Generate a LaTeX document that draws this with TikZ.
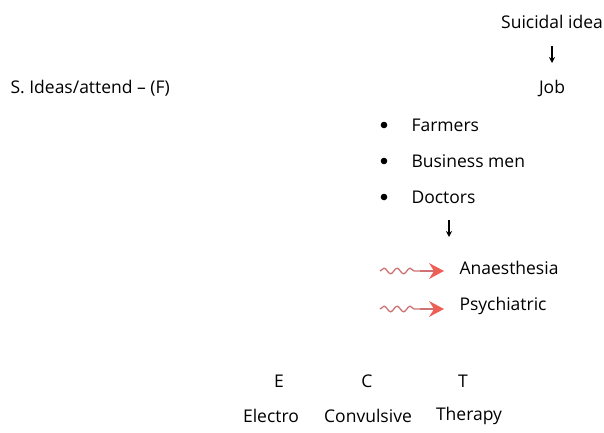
\documentclass[tikz,border=0pt]{standalone}
\usepackage{fontspec}
\setmainfont{Open Sans}
\usetikzlibrary{decorations.pathmorphing,arrows.meta}
\definecolor{wavy}{RGB}{205,115,115}
\definecolor{tipred}{RGB}{238,95,85}
\tikzset{
  txt/.style={font=\fontsize{17.5}{21}\selectfont},
  down/.style={-{Stealth[length=6pt,width=6pt]},line width=1.2pt},
  squig/.style={wavy,line width=1.3pt,decorate,decoration={snake,amplitude=2.8pt,segment length=13pt}}
}
\begin{document}
\begin{tikzpicture}[x=1pt,y=-1pt]
\useasboundingbox (0,0) rectangle (604,432);
\node[txt] (idea) at (552,22) {Suicidal idea};
\node[txt] (job) at (552,88) {Job};
\coordinate (a1) at (552,46);
\coordinate (a2) at (552,63);
\draw[down] (a1) -- (a2);
\node[txt,anchor=west] (sideas) at (7,88) {S. Ideas/attend – (F)};
\foreach \y/\name/\t in {125/farm/Farmers,161/bus/Business men,197/doc/Doctors}{
  \fill (384,\y) circle[radius=3.3pt];
  \node[txt,anchor=west] (\name) at (408,\y) {\t};
}
\coordinate (d1) at (449,220);
\coordinate (d2) at (449,237);
\draw[down] (d1) -- (d2);
\node[txt,anchor=west] (anae) at (456,268) {Anaesthesia};
\node[txt,anchor=west] (psych) at (456,306) {Psychiatric};
\foreach \n in {anae,psych}{
  \coordinate (s-\n) at ([xshift=-76pt,yshift=-3pt]\n.west);
  \coordinate (e-\n) at ([xshift=-12pt,yshift=-3pt]\n.west);
  \draw[squig] (s-\n) -- ([xshift=-24pt]e-\n);
  \draw[wavy,line width=1.3pt] ([xshift=-24pt]e-\n) -- ([xshift=-6pt]e-\n);
  \fill[tipred] (e-\n) -- ++(-15,-8) -- ++(5,8) -- ++(-5,8) -- cycle;
}
\node[txt] (e) at (279,381) {E};
\node[txt] (c) at (367,381) {C};
\node[txt] (t) at (463,381) {T};
\node[txt] (electro) at (271,416) {Electro};
\node[txt] (conv) at (368,416) {Convulsive};
\node[txt] (ther) at (469,416) {Therapy};
\end{tikzpicture}
\end{document}
